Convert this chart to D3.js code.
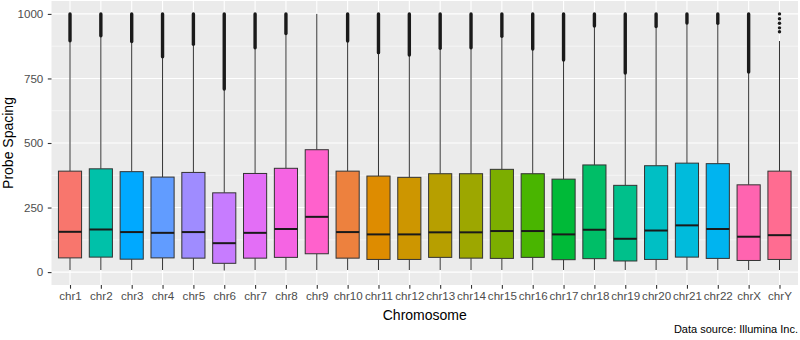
<!DOCTYPE html>
<html>
<head>
<meta charset="utf-8">
<script src="https://cdn.jsdelivr.net/npm/d3@7"></script>
<style>
body { margin: 0; background: #fff; }
svg { display: block; font-family: "Liberation Sans", Arial, sans-serif; }
</style>
</head>
<body>
<svg id="chart" width="800" height="340"></svg>
<script>
// data
const chroms = ["chr1","chr2","chr3","chr4","chr5","chr6","chr7","chr8","chr9","chr10","chr11","chr12",
                "chr13","chr14","chr15","chr16","chr17","chr18","chr19","chr20","chr21","chr22","chrX","chrY"];
const whiskerLo = [8,8,8,8,8,6,8,8,8,8,8,8,8,8,8,8,8,8,8,8,8,8,8,8];
const q1 =        [55,58,50,55,54,34,54,57,71,54,49,49,57,54,53,57,48,52,43,49,58,53,45,49];
const medians =   [156,165,155,152,155,112,152,167,214,155,146,146,154,154,159,159,146,164,129,161,181,167,137,143];
const q3 =        [391,400,389,368,386,307,382,402,474,391,372,367,381,381,398,381,360,415,336,412,422,420,338,391];
const whiskerHi = [893,912,890,831,879,706,866,921,1000,892,847,838,864,866,910,861,818,950,768,948,962,961,772,895];
// dense outliers run from outlierLo up to 1000
const outlierLo = [896,915,893,834,882,709,869,924,null,895,850,841,867,869,913,864,821,953,771,951,965,964,775,null];
const chrYOutliers = [931,946,964,981,1000];
const yTicks = [0,250,500,750,1000];
const yMinor = [125,375,625,875];

const panel = {left: 51.5, right: 798, top: 1, bottom: 285};

// ggplot hue palette (polar LUV), assigned by alphabetical factor level order
function hclLuv(h, c, l) {
    const Xn = 95.047, Yn = 100, Zn = 108.883;
    const hr = h * Math.PI / 180;
    const U = c * Math.cos(hr), V = c * Math.sin(hr);
    const Y = l > 8 ? Yn * Math.pow((l + 16) / 116, 3) : Yn * l / 903.3;
    const un = 4 * Xn / (Xn + 15 * Yn + 3 * Zn), vn = 9 * Yn / (Xn + 15 * Yn + 3 * Zn);
    const up = U / (13 * l) + un, vp = V / (13 * l) + vn;
    const X = 9 * Y * up / (4 * vp);
    const Z = -X / 3 - 5 * Y + 3 * Y / vp;
    const x = X / 100, y = Y / 100, z = Z / 100;
    const lin = [
        3.240479 * x - 1.537150 * y - 0.498535 * z,
        -0.969256 * x + 1.875992 * y + 0.041556 * z,
        0.055648 * x - 0.204043 * y + 1.057311 * z
    ];
    const g = lin.map(v => {
        v = v > 0.00304 ? 1.055 * Math.pow(v, 1 / 2.4) - 0.055 : 12.92 * v;
        return Math.round(Math.max(0, Math.min(1, v)) * 255);
    });
    return d3.rgb(g[0], g[1], g[2]).formatHex();
}
const levels = chroms.slice().sort();
const palette = levels.map((d, i) => hclLuv(15 + i * 360 / levels.length, 100, 65));
const color = d3.scaleOrdinal().domain(levels).range(palette);

const svg = d3.select("#chart");

const x = d3.scalePoint().domain(chroms).range([panel.left, panel.right]).padding(0.6);
const y = d3.scaleLinear().domain([-50, 1050]).range([panel.bottom, panel.top]);
const boxW = x.step() * 0.75;

// panel background
svg.append("rect")
    .attr("x", panel.left).attr("y", panel.top)
    .attr("width", panel.right - panel.left).attr("height", panel.bottom - panel.top)
    .attr("fill", "#EBEBEB");

const grid = svg.append("g");
grid.selectAll(".minor").data(yMinor).enter().append("line")
    .attr("x1", panel.left).attr("x2", panel.right)
    .attr("y1", d => y(d)).attr("y2", d => y(d))
    .attr("stroke", "#fff").attr("stroke-width", 0.55);
grid.selectAll(".major").data(yTicks).enter().append("line")
    .attr("x1", panel.left).attr("x2", panel.right)
    .attr("y1", d => y(d)).attr("y2", d => y(d))
    .attr("stroke", "#fff").attr("stroke-width", 1.1);
grid.selectAll(".vmajor").data(chroms).enter().append("line")
    .attr("x1", d => x(d)).attr("x2", d => x(d))
    .attr("y1", panel.top).attr("y2", panel.bottom)
    .attr("stroke", "#fff").attr("stroke-width", 1.1);

// boxes
const boxes = svg.selectAll(".box")
    .data(chroms.map((c, i) => ({c, i})))
    .enter().append("g").attr("class", "box");

boxes.append("line")
    .attr("x1", d => x(d.c)).attr("x2", d => x(d.c))
    .attr("y1", d => y(whiskerLo[d.i])).attr("y2", d => y(q1[d.i]))
    .attr("stroke", "#333").attr("stroke-width", 1);
boxes.append("line")
    .attr("x1", d => x(d.c)).attr("x2", d => x(d.c))
    .attr("y1", d => y(q3[d.i])).attr("y2", d => y(whiskerHi[d.i]))
    .attr("stroke", "#333").attr("stroke-width", 1);
boxes.append("rect")
    .attr("x", d => x(d.c) - boxW / 2).attr("width", boxW)
    .attr("y", d => y(q3[d.i])).attr("height", d => y(q1[d.i]) - y(q3[d.i]))
    .attr("fill", d => color(d.c))
    .attr("stroke", "#333").attr("stroke-width", 1);
boxes.append("line")
    .attr("x1", d => x(d.c) - boxW / 2).attr("x2", d => x(d.c) + boxW / 2)
    .attr("y1", d => y(medians[d.i])).attr("y2", d => y(medians[d.i]))
    .attr("stroke", "#1a1a1a").attr("stroke-width", 2);

// dense outliers
boxes.filter(d => outlierLo[d.i] != null).append("line")
    .attr("x1", d => x(d.c)).attr("x2", d => x(d.c))
    .attr("y1", d => y(outlierLo[d.i])).attr("y2", y(1000))
    .attr("stroke", "#1a1a1a").attr("stroke-width", 3.4)
    .attr("stroke-linecap", "round");
svg.selectAll(".yout").data(chrYOutliers).enter().append("circle")
    .attr("cx", x("chrY")).attr("cy", d => y(d)).attr("r", 1.7)
    .attr("fill", "#1a1a1a");

// axes
const yAxis = svg.append("g")
    .attr("transform", `translate(${panel.left},0)`)
    .call(d3.axisLeft(y).tickValues(yTicks).tickFormat(d3.format("d")).tickSize(3.7).tickPadding(4.5));
const xAxis = svg.append("g")
    .attr("transform", `translate(0,${panel.bottom})`)
    .call(d3.axisBottom(x).tickSize(3.7).tickPadding(3.5));
[yAxis, xAxis].forEach(a => {
    a.select(".domain").remove();
    a.selectAll(".tick line").attr("stroke", "#333").attr("stroke-width", 1.1);
    a.selectAll(".tick text").attr("fill", "#4D4D4D")
        .attr("font-size", "11.6px").attr("font-family", "Liberation Sans, Arial, sans-serif");
});

svg.append("text")
    .attr("x", (panel.left + panel.right) / 2).attr("y", 320)
    .attr("text-anchor", "middle").attr("font-size", "14px").attr("fill", "#000")
    .text("Chromosome");
svg.append("text")
    .attr("transform", `translate(12.5,${(panel.top + panel.bottom) / 2}) rotate(-90)`)
    .attr("text-anchor", "middle").attr("font-size", "14px").attr("fill", "#000")
    .text("Probe Spacing");
svg.append("text")
    .attr("x", 798).attr("y", 333)
    .attr("text-anchor", "end").attr("font-size", "11px").attr("fill", "#000")
    .text("Data source: Illumina Inc.");
</script>
</body>
</html>
